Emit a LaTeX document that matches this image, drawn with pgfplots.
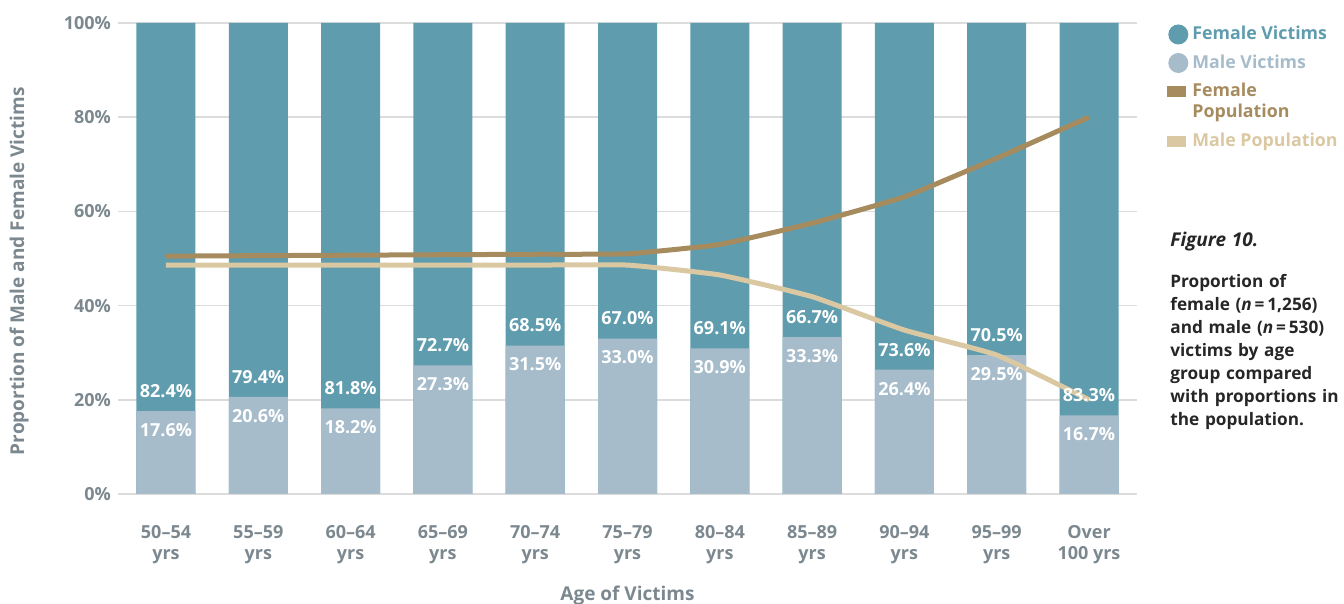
\documentclass[border=0pt]{standalone}
\usepackage{fontspec}
\setmainfont{Open Sans}
\usepackage{pgfplots}
\usepackage{pgfplotstable}
\pgfplotsset{compat=1.18}
\definecolor{fv}{HTML}{5F9CAD}
\definecolor{mv}{HTML}{A6BCCB}
\definecolor{fp}{HTML}{A68B5F}
\definecolor{mp}{HTML}{DAC8A2}
\definecolor{tg}{HTML}{6E7B82}
\definecolor{gl}{HTML}{DCDCDC}
\pgfplotstableread{
x male female full mlab flab
0 17.6 82.4 100 17.6 82.4
1 20.6 79.4 100 20.6 79.4
2 18.2 81.8 100 18.2 81.8
3 27.3 72.7 100 27.3 72.7
4 31.5 68.5 100 31.5 68.5
5 33.0 67.0 100 33.0 67.0
6 30.9 69.1 100 30.9 69.1
7 33.3 66.7 100 33.3 66.7
8 26.4 73.6 100 26.4 73.6
9 29.5 70.5 100 29.5 70.5
10 16.7 83.3 100 16.7 83.3
}\victims
\pgfplotstableread{
x fpop mpop
0 50.5 48.6
1 50.6 48.6
2 50.7 48.6
3 50.8 48.6
4 50.9 48.6
5 51.0 48.6
6 53.0 46.5
7 57.5 41.9
8 63.1 34.8
9 71.3 29.5
10 80.0 20.0
}\population
\begin{document}
\begin{tikzpicture}[x=1pt,y=1pt]
\path[use as bounding box] (0,0) rectangle (672,302);
\begin{axis}[
  at={(59pt,55pt)}, anchor=south west,
  scale only axis, width=509.5pt, height=235.5pt,
  xmin=-0.52, xmax=10.52, ymin=0, ymax=100,
  axis line style={draw=none},
  major tick style={draw=none},
  ymajorgrids, grid style={gl, line width=0.8pt},
  ytick={0,20,40,60,80,100},
  yticklabels={0\%,20\%,40\%,60\%,80\%,100\%},
  yticklabel style={font=\bfseries\fontsize{9}{10}\selectfont, text=tg!90},
  xtick={0,...,10},
  xticklabels={{50–54\\yrs},{55–59\\yrs},{60–64\\yrs},{65–69\\yrs},{70–74\\yrs},{75–79\\yrs},{80–84\\yrs},{85–89\\yrs},{90–94\\yrs},{95–99\\yrs},{Over\\100 yrs}},
  xticklabel style={align=center, font=\bfseries\fontsize{9}{10.5}\selectfont, text=tg!90, anchor=north, inner sep=0pt, yshift=-15.5pt},
  xlabel={Age of Victims},
  xlabel style={font=\bfseries\fontsize{9.5}{11}\selectfont, text=tg!90, at={(axis description cs:0.5,-0.215)}, anchor=center},
  ylabel={Proportion of Male and Female Victims},
  ylabel style={font=\bfseries\fontsize{9.5}{11}\selectfont, text=tg!90, at={(axis description cs:-0.097,0.473)}, anchor=center},
  legend style={at={(1.023,1.011)}, anchor=north west, draw=none, fill=none,
    font=\bfseries\fontsize{8.9}{10.5}\selectfont, row sep=2pt,
    cells={anchor=west, align=left}},
  legend cell align=left,
]
\addplot[ybar, bar width=29.5pt, bar shift=0pt, fill=fv, draw=none,
  legend image code/.code={\fill[fv] (5pt,0pt) circle (5pt);}]
  table[x=x, y=full] {\victims};
\addlegendentry[text=fv]{Female Victims}
\addplot[ybar, bar width=29.5pt, bar shift=0pt, fill=mv, draw=none,
  legend image code/.code={\fill[mv] (5pt,0pt) circle (5pt);},
  nodes near coords={\pgfplotspointmeta\%}, point meta=explicit symbolic,
  every node near coord/.append style={font=\bfseries\fontsize{9}{10}\selectfont, text=white, inner sep=0pt, yshift=-13pt}]
  table[x=x, y=male, meta=mlab] {\victims};
\addlegendentry[text=mv]{Male Victims}
\addplot[ybar, bar width=0.01pt, bar shift=0pt, fill=none, draw=none, forget plot,
  nodes near coords={\pgfplotspointmeta\%}, point meta=explicit symbolic,
  every node near coord/.append style={font=\bfseries\fontsize{9}{10}\selectfont, text=white, inner sep=0pt, yshift=6.5pt}]
  table[x=x, y=male, meta=flab] {\victims};
\addplot[fp, line width=2.5pt, smooth, tension=0.25, no marks,
  legend image code/.code={\path[draw=none,fill=none] (0.5pt,-7pt) rectangle (7.5pt,7pt); \fill[fp] (0.5pt,3.75pt) rectangle (7.5pt,6.75pt);}]
  table[x=x, y=fpop] {\population};
\addlegendentry[text=fp]{Female\\Population}
\addplot[mp, line width=2.5pt, smooth, tension=0.25, no marks,
  legend image code/.code={\fill[mp] (0.5pt,-1.5pt) rectangle (7.5pt,1.5pt);}]
  table[x=x, y=mpop] {\population};
\addlegendentry[text=mp]{Male Population}
\end{axis}
\node[anchor=north west, align=left, inner sep=0pt, text width=90pt,
  font=\bfseries\fontsize{8.6}{11.5}\selectfont, text=black!85] at (585,186)
  {{\itshape\fontsize{9.5}{11}\selectfont Figure 10.}\\[9pt]
   Proportion of\\
   female ({\itshape n}\,=\,1,256)\\
   and male ({\itshape n}\,=\,530)\\
   victims by age\\
   group compared\\
   with proportions in\\
   the population.};
\end{tikzpicture}
\end{document}
